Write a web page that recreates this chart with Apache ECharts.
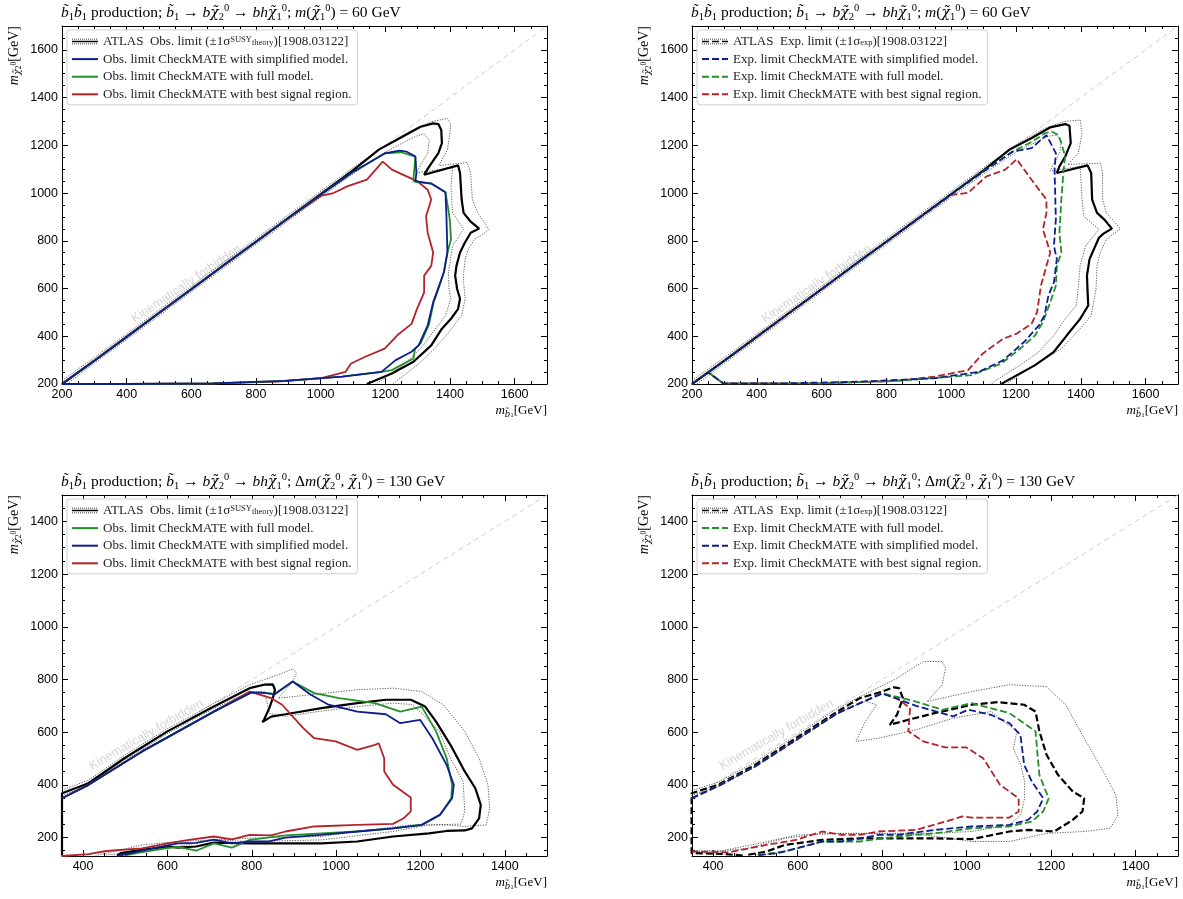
<!DOCTYPE html>
<html><head><meta charset="utf-8">
<script src="https://cdn.jsdelivr.net/npm/echarts@6/dist/echarts.min.js"></script>
<style>html,body{margin:0;padding:0;background:#fff}#c{width:1183px;height:899px}</style>
</head><body><div id="c"></div><script>
// ---------------- axis ranges and tick labels ----------------
const X_RANGE_TOP = [200, 1700];
const Y_RANGE_TOP = [200, 1700];
const X_RANGE_BOT = [350, 1500];
const Y_RANGE_BOT = [130, 1500];
const X_TICKS_TOP = [200, 400, 600, 800, 1000, 1200, 1400, 1600];
const Y_TICKS_TOP = [200, 400, 600, 800, 1000, 1200, 1400, 1600];
const X_TICKS_BOT = [400, 600, 800, 1000, 1200, 1400];
const Y_TICKS_BOT = [200, 400, 600, 800, 1000, 1200, 1400];
const MINOR_STEP = 50;

// ---------------- panel 1: observed, m(chi1)=60 ----------------
const P1_ATLAS = [[200,200],[300,298],[400,398],[500,498],[600,598],[700,698],[800,797],[900,896],[1000,996],[1100,1095],[1180,1182],[1254,1237],[1309,1278],[1348,1292],[1364,1289],[1373,1264],[1375,1209],[1364,1167],[1336,1112],[1320,1077],[1425,1116],[1431,1084],[1436,973],[1442,917],[1464,880],[1490,851],[1464,834],[1445,790],[1431,751],[1420,695],[1416,654],[1422,598],[1431,557],[1425,515],[1403,473],[1375,432],[1342,362],[1287,293],[1220,244],[1143,200]];
const P1_ATLAS_UP = [[200,214],[300,311],[400,410],[500,510],[600,610],[700,710],[800,809],[900,908],[1000,1008],[1100,1106],[1200,1200],[1280,1262],[1340,1298],[1392,1313],[1402,1290],[1400,1250],[1392,1181],[1365,1115],[1453,1128],[1464,1084],[1469,973],[1486,917],[1505,880],[1519,848],[1500,825],[1475,806],[1455,760],[1447,723],[1442,660],[1442,626],[1447,557],[1436,487],[1397,418],[1353,348],[1298,279],[1232,210],[1222,200]];
const P1_ATLAS_DN = [[215,200],[300,287],[400,386],[500,486],[600,586],[700,686],[800,785],[900,884],[1000,983],[1100,1080],[1200,1172],[1260,1215],[1298,1240],[1320,1248],[1336,1223],[1331,1167],[1310,1120],[1296,1085],[1408,1106],[1403,1028],[1408,917],[1442,848],[1408,779],[1395,667],[1397,598],[1403,557],[1386,487],[1348,418],[1309,348],[1254,279],[1198,224],[1170,200]];
const P1_SIMPLIFIED = [[200,200],[300,297],[400,397],[500,497],[600,597],[700,697],[800,796],[900,895],[1000,993],[1100,1088],[1198,1166],[1243,1178],[1265,1174],[1293,1153],[1296,1084],[1293,1050],[1342,1040],[1386,1003],[1389,903],[1392,751],[1381,668],[1359,584],[1348,543],[1331,446],[1303,362],[1281,335],[1232,300],[1188,251],[1066,231],[889,213],[668,203],[400,200],[200,200]];
const P1_FULL = [[200,200],[300,297],[400,397],[500,497],[600,597],[700,697],[800,796],[900,895],[1000,993],[1100,1088],[1198,1166],[1248,1171],[1293,1153],[1287,1060],[1287,1050],[1298,1046],[1342,1040],[1386,1003],[1395,930],[1400,880],[1403,806],[1392,751],[1381,668],[1362,590],[1350,545],[1335,450],[1309,370],[1292,348],[1287,307],[1220,258],[1188,251],[1066,231],[889,213],[668,203],[400,200],[260,200],[200,200]];
const P1_BEST = [[200,200],[300,297],[400,397],[500,497],[600,597],[700,696],[800,795],[900,893],[1000,988],[1040,1000],[1082,1028],[1143,1056],[1192,1132],[1220,1098],[1254,1077],[1298,1050],[1331,1014],[1342,973],[1326,903],[1331,834],[1348,751],[1342,695],[1320,654],[1320,584],[1298,515],[1281,452],[1237,404],[1198,348],[1138,314],[1094,286],[1077,251],[999,224],[866,210],[668,203],[400,200],[200,200]];

// ---------------- panel 2: expected, m(chi1)=60 ----------------
const P2_ATLAS = [[200,200],[300,298],[400,398],[500,498],[600,598],[700,698],[800,797],[900,896],[1000,996],[1100,1095],[1180,1182],[1250,1232],[1305,1275],[1352,1289],[1365,1282],[1369,1209],[1352,1153],[1334,1112],[1326,1084],[1421,1116],[1432,1084],[1435,973],[1450,917],[1472,890],[1496,851],[1470,830],[1456,813],[1427,723],[1419,654],[1421,584],[1423,529],[1398,473],[1357,404],[1317,335],[1259,279],[1167,210],[1155,200]];
const P2_ATLAS_UP = [[200,214],[300,311],[400,410],[500,510],[600,610],[700,710],[800,809],[900,908],[1000,1008],[1100,1106],[1200,1203],[1290,1272],[1350,1300],[1398,1306],[1404,1250],[1392,1167],[1360,1120],[1461,1125],[1467,1084],[1467,973],[1479,917],[1500,885],[1522,851],[1479,806],[1460,750],[1450,695],[1447,598],[1432,487],[1398,432],[1340,348],[1259,279],[1179,210],[1172,200]];
const P2_ATLAS_DN = [[215,200],[300,287],[400,386],[500,486],[600,586],[700,686],[800,785],[900,884],[1000,983],[1100,1080],[1200,1172],[1260,1212],[1300,1238],[1325,1243],[1340,1220],[1335,1170],[1315,1120],[1305,1092],[1398,1112],[1404,973],[1409,903],[1456,848],[1415,779],[1398,695],[1392,598],[1386,529],[1352,473],[1317,404],[1271,335],[1213,279],[1132,210],[1125,200]];
const P2_SIMPLIFIED = [[200,200],[250,249],[300,298],[400,397],[500,497],[600,597],[700,697],[800,796],[900,895],[1000,994],[1100,1090],[1190,1174],[1248,1188],[1294,1243],[1323,1167],[1319,1098],[1323,890],[1317,779],[1326,723],[1317,626],[1300,570],[1288,487],[1271,446],[1225,376],[1161,300],[1086,251],[948,224],[717,210],[500,203],[296,203],[250,249]];
const P2_FULL = [[200,200],[250,249],[300,298],[400,397],[500,497],[600,597],[700,697],[800,796],[900,895],[1000,994],[1100,1092],[1190,1174],[1250,1215],[1288,1250],[1311,1257],[1331,1243],[1340,1209],[1352,1153],[1346,1084],[1340,973],[1334,834],[1340,751],[1326,695],[1323,612],[1306,543],[1283,459],[1259,404],[1213,348],[1155,286],[1063,237],[832,213],[602,203],[296,203],[250,249]];
const P2_BEST = [[200,200],[250,249],[300,298],[400,397],[500,497],[600,597],[700,696],[800,795],[900,893],[1000,992],[1052,1001],[1109,1070],[1167,1098],[1202,1142],[1248,1056],[1294,973],[1294,917],[1283,848],[1306,751],[1294,695],[1277,612],[1265,501],[1248,452],[1202,411],[1161,390],[1132,362],[1098,328],[1052,258],[948,231],[832,213],[602,203],[296,203],[250,249]];

// ---------------- panel 3: observed, dm=130 ----------------
const P3_ATLAS = [[350,132],[350,368],[413,406],[498,501],[600,603],[702,691],[795,767],[829,780],[850,781],[855,760],[850,730],[842,693],[829,647],[825,638],[846,659],[880,668],[965,691],[1050,710],[1118,723],[1177,723],[1211,697],[1237,640],[1271,552],[1305,451],[1330,387],[1343,324],[1339,273],[1322,235],[1305,227],[1262,225],[1220,216],[1135,204],[1050,185],[965,178],[795,178],[710,181],[668,166],[625,162],[600,166],[540,153],[489,141],[481,132]];
const P3_ATLAS_UP = [[350,380],[413,418],[498,512],[600,613],[702,702],[795,780],[863,818],[897,840],[906,824],[897,792],[863,729],[940,742],[1050,761],[1135,767],[1203,754],[1254,704],[1305,603],[1339,501],[1360,400],[1364,311],[1356,248],[1305,242],[1262,248],[1177,248],[1050,223],[965,204],[795,198],[710,191],[625,185],[540,172],[455,140],[430,132]];
const P3_ATLAS_DN = [[350,360],[413,398],[498,492],[600,595],[702,683],[790,750],[830,755],[842,671],[880,660],[965,680],[1050,697],[1135,710],[1180,705],[1203,672],[1245,603],[1271,501],[1301,413],[1305,299],[1296,251],[1220,248],[1135,223],[965,191],[795,185],[710,191],[625,166],[540,147],[455,134]];
const P3_FULL = [[350,349],[413,400],[540,527],[710,678],[799,751],[829,749],[854,744],[897,792],[948,748],[1007,729],[1092,710],[1152,678],[1203,697],[1237,603],[1262,501],[1275,400],[1273,349],[1246,286],[1203,248],[1135,235],[1050,223],[880,208],[795,191],[753,162],[710,178],[668,150],[625,165],[600,160],[540,145],[500,132]];
const P3_SIMPLIFIED = [[350,349],[413,400],[540,527],[710,678],[799,751],[829,749],[854,744],[897,792],[940,742],[982,704],[1050,678],[1118,668],[1152,634],[1199,647],[1228,577],[1262,476],[1279,400],[1275,349],[1246,286],[1203,248],[1135,235],[1050,223],[965,210],[880,200],[838,185],[795,185],[753,178],[710,192],[668,180],[625,178],[600,170],[540,150],[500,136],[480,130]];
const P3_BEST = [[350,130],[413,137],[455,149],[540,159],[600,178],[651,191],[710,204],[753,193],[795,210],[846,208],[880,223],[948,242],[1050,248],[1135,252],[1160,273],[1177,299],[1177,352],[1135,400],[1114,451],[1114,501],[1101,558],[1092,552],[1050,533],[999,565],[948,577],[922,615],[872,704],[846,729],[795,754],[710,678],[540,527],[413,400],[350,349]];

// ---------------- panel 4: expected, dm=130 ----------------
const P4_ATLAS = [[470,132],[420,138],[349,141],[349,368],[411,400],[499,476],[596,577],[694,678],[747,729],[800,754],[827,770],[840,767],[849,729],[835,666],[818,628],[862,647],[924,672],[1012,704],[1074,714],[1136,704],[1163,678],[1172,603],[1189,514],[1216,438],[1251,375],[1278,349],[1274,299],[1251,267],[1207,223],[1145,229],[1101,223],[1012,194],[924,197],[835,197],[747,197],[658,191],[570,172],[526,147],[481,134]];
const P4_ATLAS_UP = [[349,378],[411,410],[499,486],[596,587],[694,690],[760,745],[830,800],[897,868],[942,868],[950,843],[942,780],[906,716],[1012,754],[1101,780],[1189,773],[1234,704],[1278,577],[1323,451],[1353,362],[1358,286],[1340,235],[1278,223],[1189,216],[1101,185],[1012,185],[900,210],[800,215],[700,215],[600,210],[500,175],[420,150],[349,150]];
const P4_ATLAS_DN = [[349,360],[411,392],[499,468],[596,569],[694,670],[760,718],[787,704],[760,640],[738,565],[791,577],[880,609],[968,653],[1057,678],[1119,603],[1110,539],[1128,476],[1137,413],[1137,349],[1128,286],[1101,248],[1012,223],[924,216],[747,216],[658,216],[570,197],[481,159],[400,145],[349,145]];
const P4_SIMPLIFIED = [[349,349],[411,395],[499,470],[596,570],[694,672],[800,747],[880,700],[968,660],[1004,685],[1057,666],[1101,634],[1127,590],[1136,476],[1154,413],[1181,349],[1167,299],[1145,267],[1101,248],[1012,242],[924,229],[835,210],[791,210],[747,197],[703,185],[658,185],[596,159],[552,141],[499,132]];
const P4_FULL = [[349,349],[411,395],[499,470],[596,570],[694,672],[800,748],[880,716],[942,685],[1012,710],[1101,672],[1163,603],[1167,527],[1172,438],[1194,349],[1181,299],[1154,261],[1101,242],[1012,235],[924,216],[835,204],[747,185],[658,185],[570,147],[499,132]];
const P4_BEST = [[349,349],[411,395],[499,470],[596,570],[694,672],[800,747],[835,729],[866,691],[862,603],[897,565],[950,542],[999,542],[1039,501],[1079,400],[1123,349],[1123,299],[1101,276],[1012,276],[990,280],[950,261],[880,229],[791,223],[747,210],[703,210],[658,223],[596,191],[526,172],[437,144],[349,147]];

// annotation anchor (data coords) for "Kinematically forbidden"
const KF_TOP = [[585, 619]];
const KF_BOT = [[550, 590]];

// ---------------- names ----------------
const N_ATLAS_OBS = 'ATLAS Obs. limit';
const N_ATLAS_EXP = 'ATLAS Exp. limit';
const N_OBS_SIMP = 'Obs. limit CheckMATE with simplified model.';
const N_OBS_FULL = 'Obs. limit CheckMATE with full model.';
const N_OBS_BEST = 'Obs. limit CheckMATE with best signal region.';
const N_EXP_SIMP = 'Exp. limit CheckMATE with simplified model.';
const N_EXP_FULL = 'Exp. limit CheckMATE with full model.';
const N_EXP_BEST = 'Exp. limit CheckMATE with best signal region.';

// ---------------- styling ----------------
const SERIF = "'Liberation Serif','DejaVu Serif',serif";
const DSERIF = "'DejaVu Serif',serif";
const SANS = "'Liberation Sans','DejaVu Sans',sans-serif";
const C_BLUE = '#0d1e8e', C_GREEN = '#23902a', C_RED = '#b5232a', C_BLACK = '#000000';
const GRIDS = [
  {left: 62, top: 26, width: 485, height: 358},
  {left: 692, top: 26, width: 486, height: 358},
  {left: 62, top: 495, width: 485, height: 361},
  {left: 692, top: 495, width: 486, height: 361}
];

function minorTicks(r, step, majors) {
  const out = [];
  for (let v = Math.ceil(r[0] / step) * step; v <= r[1]; v += step) if (majors.indexOf(v) < 0) out.push(v);
  return out;
}

const xAxes = [], yAxes = [];
const axisNameRich = {
  it: {fontFamily: SERIF, fontStyle: 'italic', fontSize: 13, lineHeight: 16, color: '#000'},
  s: {fontFamily: DSERIF, fontStyle: 'italic', fontSize: 8.5, lineHeight: 16, verticalAlign: 'bottom', color: '#000'},
  ss: {fontFamily: SERIF, fontSize: 7, lineHeight: 16, verticalAlign: 'bottom', color: '#000'},
  n: {fontFamily: SERIF, fontSize: 13, lineHeight: 16, color: '#000'}
};
function addAxes(gi, xr, yr, xt, yt) {
  const xm = minorTicks(xr, MINOR_STEP, xt), ym = minorTicks(yr, MINOR_STEP, yt);
  const common = {gridIndex: gi, type: 'value', splitLine: {show: false}, minorTick: {show: false}, nameMoveOverlap: false};
  const line = {show: true, onZero: false, lineStyle: {color: '#000', width: 1}};
  const mk = (r, pos, ticks, len, showLine, label, extra) => Object.assign({}, common, {
    min: r[0], max: r[1], position: pos,
    axisLine: showLine ? line : {show: false},
    axisTick: {show: true, inside: true, length: len, customValues: ticks, lineStyle: {color: '#000', width: 1}},
    axisLabel: label ? Object.assign({show: true, customValues: ticks, fontFamily: SANS, fontSize: 12.5, color: '#000', formatter: v => String(v)}, label) : {show: false, customValues: ticks}
  }, extra || {});
  xAxes.push(mk(xr, 'bottom', xt, 6, true, {margin: 4}, {
    name: '{it|m}{s|b\u0303}{ss|1}{n|[GeV]}', nameLocation: 'end', nameGap: 0,
    nameTextStyle: {align: 'right', verticalAlign: 'top', padding: [19, 0, 0, 0], rich: axisNameRich}
  }));
  xAxes.push(mk(xr, 'bottom', xm, 3, false, null));
  xAxes.push(mk(xr, 'top', xt, 6, true, null));
  xAxes.push(mk(xr, 'top', xm, 3, false, null));
  yAxes.push(mk(yr, 'left', yt, 6, true, {margin: 4}));
  yAxes.push(mk(yr, 'left', ym, 3, false, null));
  yAxes.push(mk(yr, 'right', yt, 6, true, null));
  yAxes.push(mk(yr, 'right', ym, 3, false, null));
}
addAxes(0, X_RANGE_TOP, Y_RANGE_TOP, X_TICKS_TOP, Y_TICKS_TOP);
addAxes(1, X_RANGE_TOP, Y_RANGE_TOP, X_TICKS_TOP, Y_TICKS_TOP);
addAxes(2, X_RANGE_BOT, Y_RANGE_BOT, X_TICKS_BOT, Y_TICKS_BOT);
addAxes(3, X_RANGE_BOT, Y_RANGE_BOT, X_TICKS_BOT, Y_TICKS_BOT);

const series = [];
function addLine(gi, name, data, color, width, type, z) {
  series.push({type: 'line', name, xAxisIndex: gi * 4, yAxisIndex: gi * 4, data, symbol: 'none', showSymbol: false,
    lineStyle: {color, width, type}, itemStyle: {color}, z, silent: true, clip: true});
}
const DASH = [7, 3];
const DOT = [1.2, 1.4];
function addPanel(gi, xr, d, names, dashed, blackDashed, kf, kfRot) {
  addLine(gi, 'diag' + gi, [[xr[0], xr[0]], [xr[1], xr[1]]], '#cdcdcd', 1, [5, 4], 1);
  series.push({type: 'scatter', name: 'kf' + gi, xAxisIndex: gi * 4, yAxisIndex: gi * 4, data: kf, symbolSize: 0, silent: true, z: 2,
    label: {show: true, position: 'inside', formatter: 'Kinematically forbidden', rotate: kfRot, color: '#cccccc', fontFamily: SANS, fontSize: 12.5}});
  addLine(gi, 'up' + gi, d.up, '#333', 0.8, DOT, 3);
  addLine(gi, 'dn' + gi, d.dn, '#333', 0.8, DOT, 3);
  addLine(gi, names.atlas, d.atlas, C_BLACK, 2.2, blackDashed ? DASH : 'solid', 4);
  const t = dashed ? DASH : 'solid';
  addLine(gi, names.best, d.best, C_RED, 1.8, t, 5);
  addLine(gi, names.full, d.full, C_GREEN, 1.8, t, 6);
  addLine(gi, names.simp, d.simp, C_BLUE, 1.8, t, 7);
}
addPanel(0, X_RANGE_TOP, {atlas: P1_ATLAS, up: P1_ATLAS_UP, dn: P1_ATLAS_DN, simp: P1_SIMPLIFIED, full: P1_FULL, best: P1_BEST},
  {atlas: N_ATLAS_OBS, simp: N_OBS_SIMP, full: N_OBS_FULL, best: N_OBS_BEST}, false, false, KF_TOP, 34);
addPanel(1, X_RANGE_TOP, {atlas: P2_ATLAS, up: P2_ATLAS_UP, dn: P2_ATLAS_DN, simp: P2_SIMPLIFIED, full: P2_FULL, best: P2_BEST},
  {atlas: N_ATLAS_EXP, simp: N_EXP_SIMP, full: N_EXP_FULL, best: N_EXP_BEST}, true, false, KF_TOP, 34);
addPanel(2, X_RANGE_BOT, {atlas: P3_ATLAS, up: P3_ATLAS_UP, dn: P3_ATLAS_DN, simp: P3_SIMPLIFIED, full: P3_FULL, best: P3_BEST},
  {atlas: N_ATLAS_OBS, simp: N_OBS_SIMP, full: N_OBS_FULL, best: N_OBS_BEST}, false, false, KF_BOT, 30);
addPanel(3, X_RANGE_BOT, {atlas: P4_ATLAS, up: P4_ATLAS_UP, dn: P4_ATLAS_DN, simp: P4_SIMPLIFIED, full: P4_FULL, best: P4_BEST},
  {atlas: N_ATLAS_EXP, simp: N_EXP_SIMP, full: N_EXP_FULL, best: N_EXP_BEST}, true, true, KF_BOT, 30);

// ---------------- legend icons ----------------
const IW = 26, IH = 12;
function rect(x0, x1, y0, y1) { return 'M' + x0 + ',' + y0 + 'H' + x1 + 'V' + y1 + 'H' + x0 + 'Z '; }
function atlasIcon(dashed) {
  let p = rect(0, 0.01, 0, 0.01) + rect(IW - 0.01, IW, IH - 0.01, IH);
  for (let x = 0; x < IW; x += 2) { p += rect(x, x + 1, 3.2, 3.9); p += rect(x, x + 1, 8.1, 8.8); }
  if (dashed) p += rect(0, 7, 5.2, 6.8) + rect(10, 17, 5.2, 6.8) + rect(20, 26, 5.2, 6.8);
  else p += rect(0, IW, 5.2, 6.8);
  return 'path://' + p;
}
const LEGEND_LABELS = {};
LEGEND_LABELS[N_ATLAS_OBS] = 'ATLAS  Obs. limit (\u00b11\u03c3{sp|SUSY}{sb|theory})[1908.03122]';
LEGEND_LABELS[N_ATLAS_EXP] = 'ATLAS  Exp. limit (\u00b11\u03c3{sb|exp})[1908.03122]';
const legendRich = {
  sp: {fontFamily: SERIF, fontSize: 8.5, verticalAlign: 'top', lineHeight: 12, color: '#222'},
  sb: {fontFamily: SERIF, fontSize: 8.5, verticalAlign: 'bottom', lineHeight: 12, color: '#222'}
};
function mkLegend(gi, atlasName, dashed, order) {
  const g = GRIDS[gi];
  return {
    left: g.left + 5, top: g.top + 4, orient: 'vertical', itemWidth: IW, itemHeight: IH, itemGap: 4.6,
    padding: [5, 6, 4, 4], borderColor: '#cfcfcf', borderWidth: 1, borderRadius: 3, backgroundColor: 'rgba(255,255,255,0.85)',
    selectedMode: false, itemStyle: {opacity: 0},
    textStyle: {fontFamily: SERIF, fontSize: 13, color: '#222', lineHeight: 12, rich: legendRich},
    formatter: n => LEGEND_LABELS[n] || n,
    data: [{name: atlasName, icon: atlasIcon(dashed), itemStyle: {opacity: 1, color: '#000'}}].concat(order)
  };
}
const legends = [
  mkLegend(0, N_ATLAS_OBS, false, [N_OBS_SIMP, N_OBS_FULL, N_OBS_BEST]),
  mkLegend(1, N_ATLAS_EXP, true, [N_EXP_SIMP, N_EXP_FULL, N_EXP_BEST]),
  mkLegend(2, N_ATLAS_OBS, false, [N_OBS_FULL, N_OBS_SIMP, N_OBS_BEST]),
  mkLegend(3, N_ATLAS_EXP, true, [N_EXP_FULL, N_EXP_SIMP, N_EXP_BEST])
];

// ---------------- titles ----------------
const T = 'b\u0303';
const CHI = '\u03c7\u0303';
const TITLE_HEAD = '{i|' + T + '}{s|1}{i|' + T + '}{s|1} production; {i|' + T + '}{s|1} \u2192 {i|b}{c|' + CHI + '}{s|2}{p|0} \u2192 {i|bh}{c|' + CHI + '}{s|1}{p|0}; ';
const TITLE_TOP = TITLE_HEAD + '{i|m}({c|' + CHI + '}{s|1}{p|0}) = 60 GeV';
const TITLE_BOT = TITLE_HEAD + '\u0394{i|m}({c|' + CHI + '}{s|2}{p|0}, {c|' + CHI + '}{s|1}{p|0}) = 130 GeV';
const titleRich = {
  i: {fontFamily: SERIF, fontStyle: 'italic', fontSize: 15.5, lineHeight: 20, color: '#000'},
  c: {fontFamily: DSERIF, fontStyle: 'italic', fontSize: 14, lineHeight: 20, color: '#000'},
  s: {fontFamily: SERIF, fontSize: 10.5, lineHeight: 20, verticalAlign: 'bottom', color: '#000'},
  p: {fontFamily: SERIF, fontSize: 10.5, lineHeight: 20, verticalAlign: 'top', color: '#000'}
};
const titles = GRIDS.map((g, i) => ({
  left: g.left - 1, top: g.top - 23, padding: 0,
  text: i < 2 ? TITLE_TOP : TITLE_BOT,
  textStyle: {fontFamily: SERIF, fontSize: 15.5, fontWeight: 'normal', lineHeight: 20, color: '#000', rich: titleRich}
}));

// ---------------- y axis names ----------------
const graphics = GRIDS.map(g => ({
  type: 'text', x: g.left - 48, y: g.top, rotation: Math.PI / 2, silent: true,
  style: {
    text: '{it|m}{s|' + CHI + '}{ss|2}{sp|0}{n|[GeV]}', align: 'right', verticalAlign: 'middle', fill: '#000',
    fontFamily: SERIF, fontSize: 14,
    rich: {
      it: {fontFamily: SERIF, fontStyle: 'italic', fontSize: 14, lineHeight: 18, fill: '#000'},
      s: {fontFamily: DSERIF, fontStyle: 'italic', fontSize: 9.5, lineHeight: 18, verticalAlign: 'bottom', fill: '#000'},
      ss: {fontFamily: SERIF, fontSize: 7.5, lineHeight: 18, verticalAlign: 'bottom', fill: '#000'},
      sp: {fontFamily: SERIF, fontSize: 7.5, lineHeight: 18, verticalAlign: 'middle', fill: '#000'},
      n: {fontFamily: SERIF, fontSize: 14, lineHeight: 18, fill: '#000'}
    }
  }
}));

const chart = echarts.init(document.getElementById('c'), null, {renderer: 'canvas'});
chart.setOption({
  animation: false, backgroundColor: '#fff',
  grid: GRIDS.map(g => Object.assign({containLabel: false, outerBoundsMode: 'none'}, g)),
  xAxis: xAxes, yAxis: yAxes, title: titles, legend: legends, graphic: graphics, series
});
</script></body></html>
